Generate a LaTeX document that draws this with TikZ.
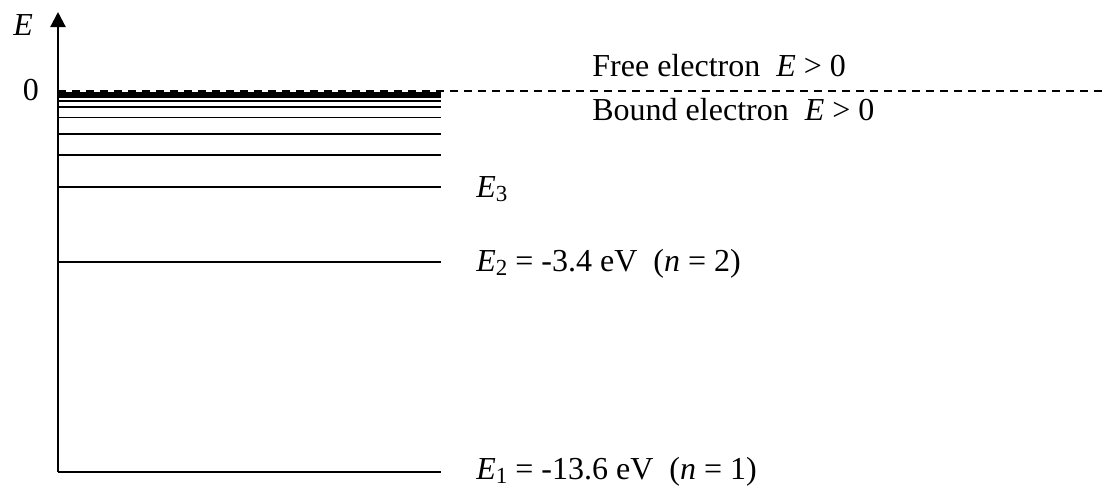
\documentclass[tikz,border=0pt]{standalone}
\usepackage{fontspec}
\setmainfont{Liberation Serif}
\usetikzlibrary{arrows.meta}

\newcommand{\Elev}[1]{\textit{E}\raisebox{-0.3ex}{\fontsize{11.5}{13}\selectfont #1}}

\begin{document}
\begin{tikzpicture}[x=0.5pt, y=-0.5pt,
    level/.style={line width=0.9pt},
    axis/.style={line width=1.1pt, -{Triangle[length=7.5pt, width=7.5pt]}},
    label/.style={font=\fontsize{16}{19}\selectfont, inner sep=0pt}]

    \useasboundingbox (0,0) rectangle (1105,488);

    % Define the corners of the energy axis
    \coordinate (origin) at (58,472);
    \coordinate (top) at (58,12);
    \coordinate (right) at (441,472);

    % Draw energy levels, closer together towards zero
    \foreach \y [count=\i] in {92.6, 94.6, 97, 101.3, 107.3, 117.5, 134, 155, 187, 262} {
        \coordinate (a\i) at (58,\y);
        \coordinate (b\i) at (441,\y);
        \draw[level] (a\i) -- (b\i);
    }
    \draw[level] (origin) -- (right);

    % Draw the axis
    \draw[axis] (origin) -- (top);

    % Ionisation limit
    \coordinate (z0) at (58,90.8);
    \coordinate (z1) at (1105,90.8);
    \draw[level, dash pattern=on 4pt off 3pt] (z0) -- (z1);

    % Labels
    \node[label, anchor=base west] (elabel) at (13,35) {\textit{E}};
    \node[label, anchor=base] (zero) at (31,100) {0};
    \node[label, anchor=base west] (free) at (592,76) {Free electron~ \textit{E} > 0};
    \node[label, anchor=base west] (bound) at (592,120) {Bound electron~ \textit{E} > 0};
    \node[label, anchor=base west] (e3) at (476,197) {\Elev{3}};
    \node[label, anchor=base west] (e2) at (476,271) {\Elev{2} = -3.4 eV~ (\textit{n} = 2)};
    \node[label, anchor=base west] (e1) at (476,479) {\Elev{1} = -13.6 eV~ (\textit{n} = 1)};
\end{tikzpicture}
\end{document}
